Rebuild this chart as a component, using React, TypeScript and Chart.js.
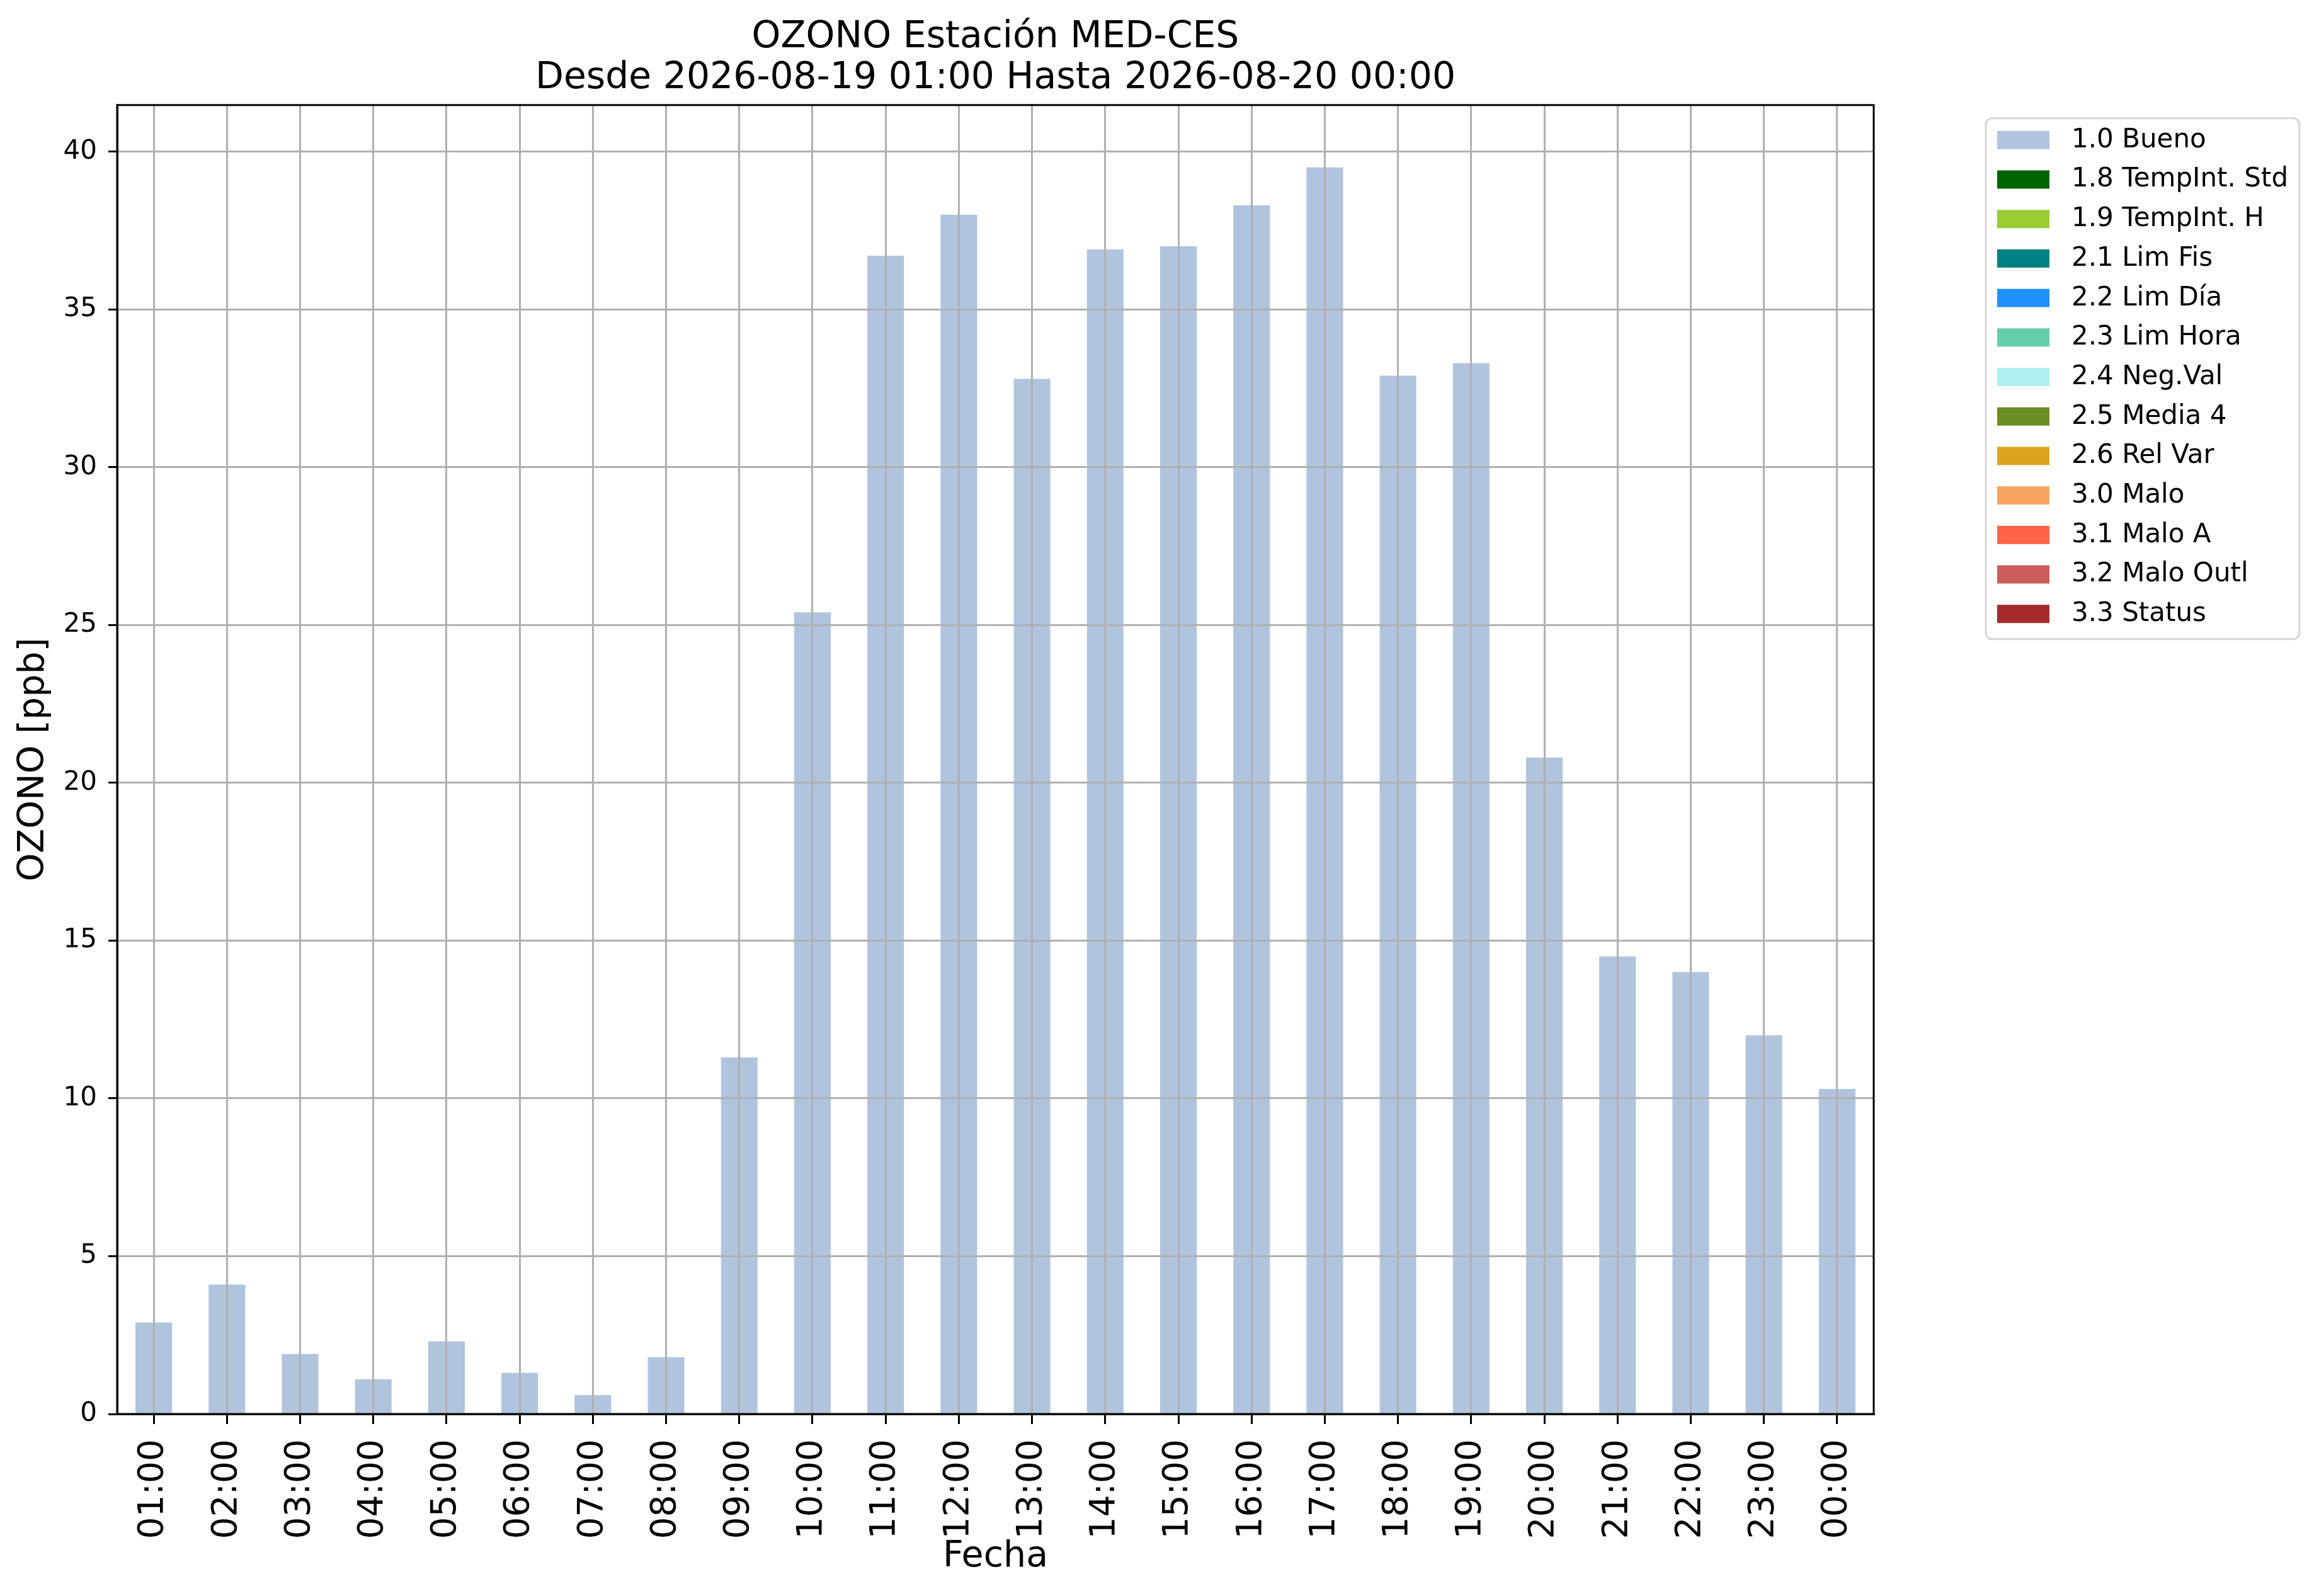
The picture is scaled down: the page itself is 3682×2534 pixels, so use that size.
import React, { useEffect, useRef } from 'react';
import { Chart, registerables } from 'chart.js';

Chart.register(...registerables);

const hours = [
  '01:00', '02:00', '03:00', '04:00', '05:00', '06:00', '07:00', '08:00',
  '09:00', '10:00', '11:00', '12:00', '13:00', '14:00', '15:00', '16:00',
  '17:00', '18:00', '19:00', '20:00', '21:00', '22:00', '23:00', '00:00',
];

// ozone readings flagged as 1.0 Bueno (ppb)
const buenoValues = [
  2.9, 4.1, 1.9, 1.1, 2.3, 1.3, 0.6, 1.8,
  11.3, 25.4, 36.7, 38.0, 32.8, 36.9, 37.0, 38.3,
  39.5, 32.9, 33.3, 20.8, 14.5, 14.0, 12.0, 10.3,
];

const flagLabels = [
  '1.0 Bueno', '1.8 TempInt. Std', '1.9 TempInt. H', '2.1 Lim Fis', '2.2 Lim Día',
  '2.3 Lim Hora', '2.4 Neg.Val', '2.5 Media 4', '2.6 Rel Var', '3.0 Malo',
  '3.1 Malo A', '3.2 Malo Outl', '3.3 Status',
];

const flagColors = [
  '#B0C4DE', '#006400', '#9ACD32', '#008080', '#1E90FF',
  '#66CDAA', '#AFEEEE', '#6B8E23', '#DAA520', '#F4A460',
  '#FF6347', '#CD5C5C', '#A52A2A',
];

const titleLines = ['OZONO Estación MED-CES', 'Desde 2026-08-19 01:00 Hasta 2026-08-20 00:00'];
const yMax = 41.475;

const FONT = 'DejaVu Sans';

// axes frame (top and right spines too)
const framePlugin = {
  id: 'frame',
  afterDraw(chart: any) {
    const { ctx, chartArea: a } = chart;
    ctx.save();
    ctx.strokeStyle = '#000000';
    ctx.lineWidth = 3;
    ctx.strokeRect(a.left, a.top, a.right - a.left, a.bottom - a.top);
    ctx.restore();
  },
};

// matplotlib style legend box to the right of the axes
const legendPlugin = {
  id: 'flagLegend',
  afterDraw(chart: any) {
    const { ctx, chartArea: a } = chart;
    const sets = chart.data.datasets;
    const x0 = a.right + 178;
    const y0 = a.top + 21;
    const w = 498;
    const rowH = 62.7;
    const h = 827;
    ctx.save();
    ctx.beginPath();
    ctx.roundRect(x0, y0, w, h, 10);
    ctx.fillStyle = 'rgba(255,255,255,0.8)';
    ctx.fill();
    ctx.strokeStyle = '#d6d6d6';
    ctx.lineWidth = 3;
    ctx.stroke();
    ctx.font = `42px "${FONT}"`;
    ctx.textBaseline = 'middle';
    ctx.textAlign = 'left';
    sets.forEach((ds: any, i: number) => {
      const top = y0 + 20 + i * rowH;
      ctx.fillStyle = ds.backgroundColor;
      ctx.fillRect(x0 + 18, top, 83, 29);
      ctx.fillStyle = '#000000';
      ctx.fillText(ds.label, x0 + 136, top + 15);
    });
    ctx.restore();
  },
};

const App: React.FC = () => {
  const chartRef = useRef<HTMLCanvasElement>(null);
  const chartInstance = useRef<Chart | null>(null);

  useEffect(() => {
    document.body.style.margin = '0';
    if (!chartRef.current) return;
    const ctx = chartRef.current.getContext('2d');
    if (!ctx) return;

    if (chartInstance.current) {
      chartInstance.current.destroy();
    }

    chartInstance.current = new Chart(ctx, {
      type: 'bar',
      data: {
        labels: hours,
        datasets: flagLabels.map((label, i) => ({
          label,
          data: i === 0 ? buenoValues : [],
          backgroundColor: flagColors[i],
          borderWidth: 0,
          barPercentage: 0.5,
          categoryPercentage: 1,
        })),
      },
      options: {
        responsive: false,
        devicePixelRatio: 1,
        animation: false,
        events: [],
        layout: { padding: { left: 0, top: 0, right: 707, bottom: 0 } },
        plugins: {
          legend: { display: false },
          tooltip: { enabled: false },
          title: {
            display: true,
            text: titleLines,
            fullSize: false,
            color: '#000000',
            font: { family: FONT, size: 58.4, weight: 'normal', lineHeight: 1.12 },
            padding: { top: 27, bottom: 9 },
          },
        },
        scales: {
          x: {
            stacked: true,
            offset: true,
            afterFit: (scale: any) => { scale.height = 289; },
            grid: {
              offset: false,
              color: '#b0b0b0',
              lineWidth: 3,
              z: 1,
              drawTicks: true,
              tickLength: 16,
              tickColor: '#000000',
              tickWidth: 3,
            },
            border: { display: true, color: '#000000', width: 3, z: 2 },
            ticks: {
              minRotation: 90,
              maxRotation: 90,
              autoSkip: false,
              padding: 24,
              color: '#000000',
              font: { family: FONT, size: 55 },
            },
            title: {
              display: true,
              text: 'Fecha',
              color: '#000000',
              font: { family: FONT, size: 57 },
              padding: { top: 0, bottom: 28 },
            },
          },
          y: {
            stacked: true,
            min: 0,
            max: yMax,
            afterFit: (scale: any) => { scale.width = 186; },
            grid: {
              color: '#b0b0b0',
              lineWidth: 3,
              z: 1,
              drawTicks: true,
              tickLength: 14,
              tickColor: '#000000',
              tickWidth: 3,
            },
            border: { display: true, color: '#000000', width: 3, z: 2 },
            ticks: {
              stepSize: 5,
              includeBounds: false,
              padding: 18,
              color: '#000000',
              font: { family: FONT, size: 42 },
            },
            title: {
              display: true,
              text: 'OZONO [ppb]',
              color: '#000000',
              font: { family: FONT, size: 57 },
              padding: { top: 20, bottom: 0 },
            },
          },
        },
      },
      plugins: [framePlugin, legendPlugin],
    });

    return () => {
      if (chartInstance.current) {
        chartInstance.current.destroy();
        chartInstance.current = null;
      }
    };
  }, []);

  return (
    <div style={{ position: 'absolute', left: 0, top: 0, width: 3682, height: 2534, background: '#ffffff' }}>
      <canvas ref={chartRef} width={3682} height={2534} style={{ display: 'block', width: 3682, height: 2534 }} />
    </div>
  );
};

export default App;
